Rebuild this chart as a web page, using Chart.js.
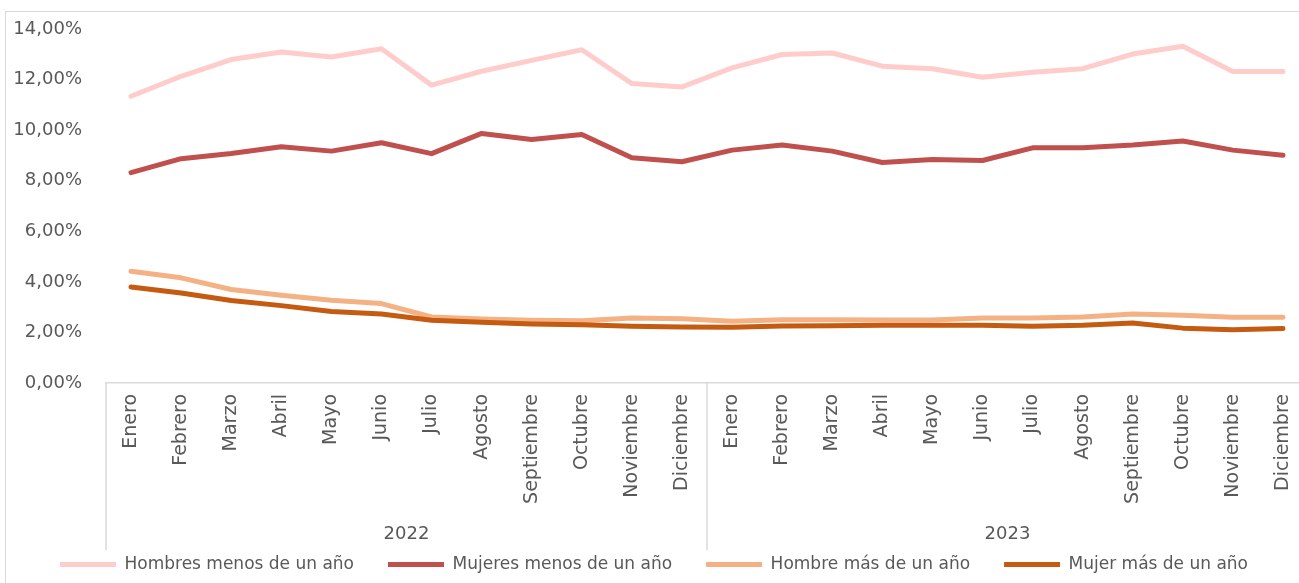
<!DOCTYPE html>
<html><head><meta charset="utf-8">
<script src="https://cdn.jsdelivr.net/npm/chart.js@4"></script>
<style>
html,body{margin:0;padding:0;overflow:hidden;background:#fff;width:1299px;height:583px;}
#frame{position:absolute;left:5px;top:11px;width:1294px;height:572px;border-left:1.5px solid #d9d9d9;border-top:1.5px solid #d9d9d9;box-sizing:border-box;}
#c{position:absolute;left:0;top:0;}
</style></head><body>
<div id="frame"></div>
<canvas id="c" width="1310" height="583"></canvas>
<script>
const years = ['2022', '2023'];
const months = ['Enero','Febrero','Marzo','Abril','Mayo','Junio','Julio','Agosto','Septiembre','Octubre','Noviembre','Diciembre'];
const yTicks = [0, 2, 4, 6, 8, 10, 12, 14];

const hombresMenos = [11.34, 12.13, 12.79, 13.09, 12.89, 13.22, 11.78, 12.33, 12.76, 13.18, 11.84, 11.71,
                      12.46, 12.99, 13.05, 12.53, 12.43, 12.09, 12.29, 12.43, 13.01, 13.32, 12.32, 12.32];
const mujeresMenos = [8.32, 8.87, 9.08, 9.34, 9.17, 9.50, 9.07, 9.87, 9.63, 9.83, 8.91, 8.75,
                      9.21, 9.41, 9.17, 8.72, 8.84, 8.80, 9.30, 9.30, 9.41, 9.57, 9.21, 9.01];
const hombreMas = [4.42, 4.16, 3.70, 3.47, 3.27, 3.14, 2.61, 2.53, 2.48, 2.46, 2.57, 2.54,
                   2.44, 2.50, 2.50, 2.49, 2.49, 2.57, 2.57, 2.61, 2.73, 2.68, 2.60, 2.60];
const mujerMas = [3.80, 3.56, 3.26, 3.06, 2.83, 2.73, 2.48, 2.40, 2.33, 2.30, 2.24, 2.21,
                  2.20, 2.25, 2.26, 2.28, 2.28, 2.28, 2.24, 2.28, 2.37, 2.17, 2.11, 2.16];

const seriesNames = ['Hombres menos de un año', 'Mujeres menos de un año', 'Hombre más de un año', 'Mujer más de un año'];
const seriesColors = ['#FFCCCC', '#C0504D', '#F4B183', '#C55A11'];
const seriesData = [hombresMenos, mujeresMenos, hombreMas, mujerMas];

const labels = years.flatMap(() => months);
const FONT = '"DejaVu Sans", sans-serif';
const TXT = '#595959';

const yearGroups = {
  id: 'yearGroups',
  afterDraw(chart) {
    const x = chart.scales.x, ctx = chart.ctx, n = months.length;
    const half = (x.getPixelForValue(1) - x.getPixelForValue(0)) / 2;
    ctx.save();
    ctx.strokeStyle = '#d9d9d9'; ctx.lineWidth = 1.5;
    const yTop = x.top, yBot = x.top + 167;
    for (let g = 0; g <= years.length; g++) {
      const px = g < years.length ? x.getPixelForValue(g * n) - half : x.getPixelForValue(years.length * n - 1) + half;
      ctx.beginPath(); ctx.moveTo(px, yTop); ctx.lineTo(px, yBot); ctx.stroke();
    }
    ctx.fillStyle = TXT; ctx.font = '18px ' + FONT; ctx.textAlign = 'center'; ctx.textBaseline = 'middle';
    years.forEach((yr, g) => {
      const cx = (x.getPixelForValue(g * n) + x.getPixelForValue(g * n + n - 1)) / 2;
      ctx.fillText(yr, cx, x.top + 151);
    });
    ctx.restore();
  }
};

new Chart(document.getElementById('c'), {
  type: 'line',
  data: {
    labels: labels,
    datasets: seriesData.map((d, i) => ({
      label: seriesNames[i],
      data: d,
      borderColor: seriesColors[i],
      backgroundColor: seriesColors[i],
      borderWidth: 5,
      borderCapStyle: 'round',
      borderJoinStyle: 'round',
      pointRadius: 0,
      pointHoverRadius: 0,
      tension: 0,
      fill: false,
      order: 4 - i
    }))
  },
  options: {
    responsive: false,
    animation: false,
    devicePixelRatio: 1,
    layout: { padding: { left: 0, right: 2, top: 29, bottom: 0 } },
    plugins: {
      tooltip: { enabled: false },
      legend: {
        position: 'bottom',
        labels: {
          usePointStyle: true,
          pointStyle: 'line',
          pointStyleWidth: 56,
          boxWidth: 56,
          padding: 34,
          color: TXT,
          font: { family: FONT, size: 17 },
          sort: (a, b) => a.datasetIndex - b.datasetIndex
        }
      }
    },
    scales: {
      x: {
        type: 'category',
        offset: true,
        grid: { display: false, drawTicks: false },
        border: { display: true, color: '#d9d9d9', width: 1.5 },
        ticks: { minRotation: 90, maxRotation: 90, autoSkip: false, padding: 11, color: TXT, font: { family: FONT, size: 19 } },
        afterFit: (s) => { s.height = 139; s.paddingLeft = 0; s.paddingRight = 0; s.paddingTop = 0; s.paddingBottom = 0; }
      },
      y: {
        min: 0, max: 14,
        afterBuildTicks: (s) => { s.ticks = yTicks.map(v => ({ value: v })); },
        grid: { display: false, drawTicks: false },
        border: { display: false },
        ticks: { padding: 24, color: TXT, font: { family: FONT, size: 18 },
                 callback: (v) => v.toFixed(2).replace('.', ',') + '%' },
        afterFit: (s) => { s.width = 106; s.paddingLeft = 0; s.paddingRight = 0; s.paddingTop = 0; s.paddingBottom = 0; }
      }
    }
  },
  plugins: [yearGroups]
});
</script>
</body></html>
